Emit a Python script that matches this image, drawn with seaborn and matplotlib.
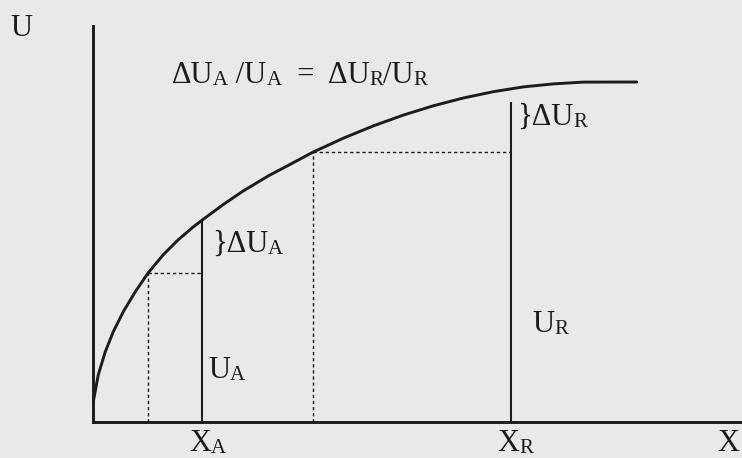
import pandas as pd
import numpy as np
import matplotlib
matplotlib.use("Agg")
import matplotlib.pyplot as plt
import seaborn as sns

sns.set_style("white")
plt.rcParams['font.family'] = ['Liberation Serif', 'DejaVu Serif']

paper = '#e9e9e7'
ink = '#1c1c1c'

# utility curve (x from the U axis, U above the X axis)
curve_x = [0, 5, 12, 20, 30, 42, 55, 70, 85, 100, 109, 130, 150, 175, 200,
           219.4, 250, 280, 310, 340, 370, 400, 430, 460, 490, 543.4]
curve_u = [20, 47, 70, 90, 110, 130, 149, 167, 182, 194.8, 201.7, 217.2,
           230.8, 245.8, 259, 269.4, 283.5, 295.8, 306.6, 315.9, 323.7,
           330, 334.8, 337.8, 339.6, 339.7]

# vertical guides: dotted before X_A, solid at X_A, dotted before X_R, solid at X_R
guide_x = [55, 109, 219.4, 417.4]
guide_top = [149, 201.7, 269.4, 320]
guide_solid = [False, True, False, True]

# horizontal dotted links
link_u = [149, 269.4]
link_from = [55, 219.4]
link_to = [109, 417.4]

df = pd.DataFrame({'x': curve_x, 'U': curve_u})

fig = plt.figure(figsize=(7.42, 4.58), dpi=100, facecolor=paper)
ax = fig.add_axes([0, 0, 1, 1], facecolor=paper)

sns.lineplot(data=df, x='x', y='U', ax=ax, color=ink, lw=2.1,
             sort=False, estimator=None)

dots = (0, (2.4, 2.0))
for gx, top, solid in zip(guide_x, guide_top, guide_solid):
    if solid:
        ax.vlines(gx, 0, top, color=ink, lw=1.5)
    else:
        ax.vlines(gx, 0, top, color=ink, lw=1.0, linestyles=dots)
ax.hlines(link_u, link_from, link_to, color=ink, lw=1.0, linestyles=dots)

ax.set_xlim(-93.3, 648.7)
ax.set_ylim(-36.3, 421.7)
ax.set_xticks([])
ax.set_yticks([])
ax.set_xlabel('')
ax.set_ylabel('')
ax.spines['top'].set_visible(False)
ax.spines['right'].set_visible(False)
for side, top in [('left', 395.7), ('bottom', 648.7)]:
    sp = ax.spines[side]
    sp.set_position(('data', 0))
    sp.set_bounds(0, top)
    sp.set_color(ink)
    sp.set_linewidth(2.1)


def label(x, base, pieces):
    # pieces of (text, size); small sizes give the small-cap subscripts
    size0 = pieces[0][1]
    prev = ax.text(x, base - 0.217 * size0 * 100 / 72, pieces[0][0],
                   fontsize=size0, color=ink, va='bottom', ha='left',
                   clip_on=False)
    for s, size in pieces[1:]:
        prev = ax.annotate(s, xy=(1, 0), xycoords=prev, fontsize=size,
                           color=ink, va='bottom', ha='left')


big, small = 22, 15
label(-83.3, 385, [('U', big)])
label(624, -30, [('X', big)])
label(95.7, -30, [('X', big), ('A', small)])
label(403.7, -30, [('X', big), ('R', small)])
label(114.7, 43.7, [('U', big), ('A', small)])
label(438.7, 89.7, [('U', big), ('R', small)])
label(118.4, 169.7, [('}ΔU', big), ('A', small)])
label(423.4, 296.7, [('}ΔU', big), ('R', small)])
label(78.4, 338.4, [('ΔU', big), ('A', small), (' /U', big), ('A', small),
                    ('  =  ΔU', big), ('R', small), ('/U', big), ('R', small)])

fig.savefig('out.png', dpi=100, facecolor=paper)
